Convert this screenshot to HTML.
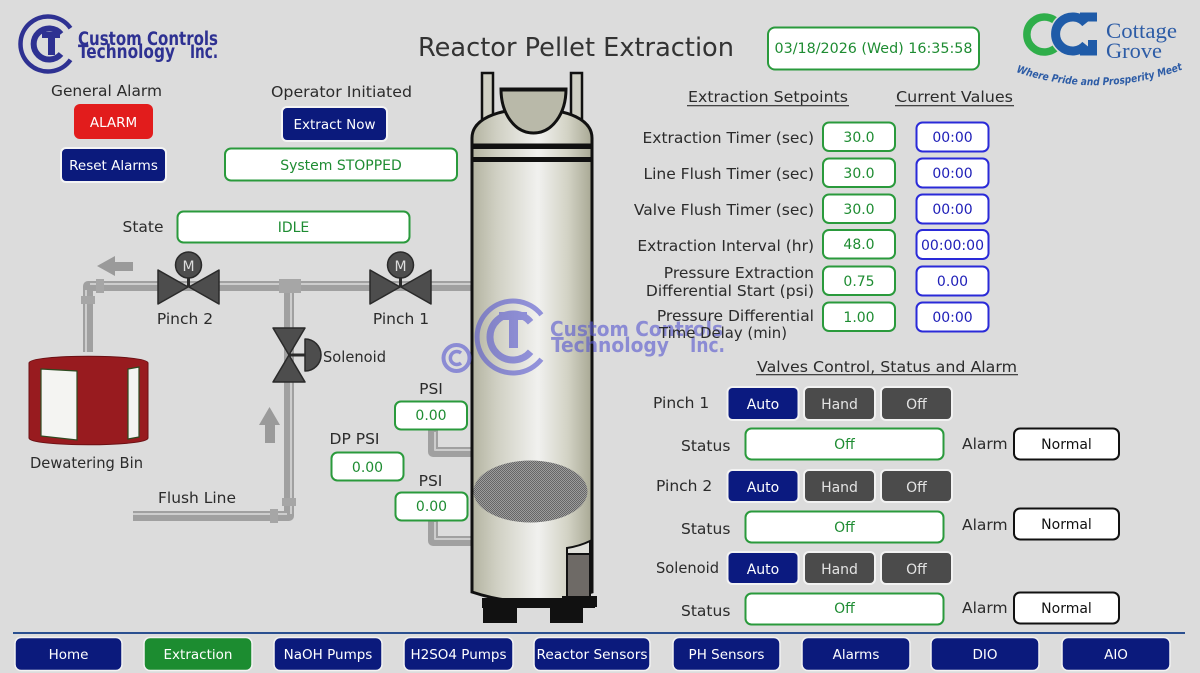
<!DOCTYPE html>
<html><head><meta charset="utf-8">
<style>
html,body{margin:0;padding:0;background:#dcdcdc;}
svg{display:block;}
text{font-family:"DejaVu Sans","Liberation Sans",sans-serif;}
text.serif{font-family:"Liberation Serif","DejaVu Serif",serif;}
text.cond{font-family:"DejaVu Sans Condensed","DejaVu Sans","Liberation Sans",sans-serif;}
</style></head><body>
<svg width="1200" height="673" viewBox="0 0 1200 673" xmlns="http://www.w3.org/2000/svg">
<defs>
<linearGradient id="body" x1="0" x2="1" y1="0" y2="0">
<stop offset="0" stop-color="#b3b3a0"/>
<stop offset="0.2" stop-color="#cfcfc2"/>
<stop offset="0.55" stop-color="#f1f1ef"/>
<stop offset="0.8" stop-color="#d2d2c4"/>
<stop offset="1" stop-color="#a8a894"/>
</linearGradient>
<pattern id="mesh" width="2" height="2" patternUnits="userSpaceOnUse"><rect width="2" height="2" fill="#9c9c9c"/><rect width="1" height="1" fill="#666"/><rect x="1" y="1" width="1" height="1" fill="#666"/></pattern>
<path id="tag" d="M1016,72 Q1098,100 1184,69"/>
</defs>
<rect width="1200" height="673" fill="#dcdcdc"/>

<!-- CCT logo top-left -->
<g fill="none" stroke="#2e3192">
<path d="M70.5,28.2 A27.5,27.5 0 1 0 70.5,59.8" stroke-width="4.5"/>
<path d="M61,34 A15.5,15.5 0 1 0 61,54" stroke-width="6"/>
</g>
<g fill="#2e3192">
<rect x="42" y="32" width="18" height="6"/>
<rect x="48" y="32" width="7" height="23"/>
<text class="cond" x="78" y="45" font-size="18.5" font-weight="bold" textLength="140" lengthAdjust="spacingAndGlyphs">Custom Controls</text>
<text class="cond" x="78" y="58" font-size="18.5" font-weight="bold" textLength="97" lengthAdjust="spacingAndGlyphs">Technology</text>
<text class="cond" x="190" y="58" font-size="18.5" font-weight="bold" textLength="28" lengthAdjust="spacingAndGlyphs">Inc.</text>
</g>

<!-- Title -->
<text x="576" y="56" font-size="25.5" fill="#333" text-anchor="middle" textLength="316" lengthAdjust="spacingAndGlyphs">Reactor Pellet Extraction</text>

<!-- Date -->
<rect x="768" y="27.5" width="211" height="42" rx="7" fill="#fff" stroke="#2a9a3c" stroke-width="2"/>
<text x="873.5" y="53" font-size="14" fill="#1e8c32" text-anchor="middle" textLength="198" lengthAdjust="spacingAndGlyphs">03/18/2026 (Wed) 16:35:58</text>

<!-- Cottage Grove logo -->
<path d="M1059.2,25.2 A17.5,17.5 0 1 0 1059.2,43.8" fill="none" stroke="#2fae4a" stroke-width="7.5"/>
<path d="M1085.8,23.3 A17,17 0 1 0 1085.8,44.7" fill="none" stroke="#dcdcdc" stroke-width="12"/>
<path d="M1085.8,23.3 A17,17 0 1 0 1085.8,44.7" fill="none" stroke="#1f5ba8" stroke-width="9"/>
<rect x="1080" y="12.5" width="17" height="9" fill="#1f5ba8"/>
<rect x="1080" y="46.5" width="17" height="9" fill="#1f5ba8"/>
<rect x="1088" y="40" width="9" height="15.5" fill="#1f5ba8"/>
<text class="serif" x="1106" y="38" font-size="22" fill="#2d5ca6" textLength="71" lengthAdjust="spacingAndGlyphs">Cottage</text>
<text class="serif" x="1106" y="58" font-size="22" fill="#2d5ca6" textLength="56" lengthAdjust="spacingAndGlyphs">Grove</text>
<text font-size="10.5" font-weight="bold" font-style="italic" fill="#2d5ca6"><textPath href="#tag" textLength="170" lengthAdjust="spacingAndGlyphs">Where Pride and Prosperity Meet</textPath></text>

<!-- Left controls -->
<text x="106.5" y="96" font-size="15.5" fill="#2b2b2b" text-anchor="middle" textLength="111" lengthAdjust="spacingAndGlyphs">General Alarm</text>
<rect x="74" y="104" width="79" height="35" rx="6" fill="#e21c1c"/>
<text x="113.5" y="127" font-size="13.5" fill="#fff" text-anchor="middle">ALARM</text>
<rect x="61" y="148" width="105" height="34" rx="5" fill="#0b1a7c" stroke="#f4f4f4" stroke-width="2"/>
<text x="113.5" y="170" font-size="13.5" fill="#fff" text-anchor="middle">Reset Alarms</text>

<text x="341.5" y="97" font-size="15.5" fill="#2b2b2b" text-anchor="middle" textLength="141" lengthAdjust="spacingAndGlyphs">Operator Initiated</text>
<rect x="282" y="107" width="105" height="34" rx="5" fill="#0b1a7c" stroke="#f4f4f4" stroke-width="2"/>
<text x="334.5" y="129" font-size="13.5" fill="#fff" text-anchor="middle">Extract Now</text>
<rect x="225" y="148.5" width="232" height="32" rx="6" fill="#fff" stroke="#2a9a3c" stroke-width="2"/>
<text x="341" y="170" font-size="14" fill="#1e8c32" text-anchor="middle">System STOPPED</text>

<text x="143" y="232" font-size="15.5" fill="#2b2b2b" text-anchor="middle">State</text>
<rect x="177.5" y="211.5" width="232" height="31" rx="6" fill="#fff" stroke="#2a9a3c" stroke-width="2"/>
<text x="293.5" y="232" font-size="14" fill="#1e8c32" text-anchor="middle">IDLE</text>

<!-- Pipes -->
<g fill="none" stroke-linejoin="round">
<path d="M472,286 L88,286 L88,352" stroke="#a0a0a0" stroke-width="10"/>
<path d="M289,286 L289,516 L133,516" stroke="#a0a0a0" stroke-width="10"/>
<path d="M433,430 L433,452 L472,452" stroke="#a0a0a0" stroke-width="10"/>
<path d="M433,520 L433,541 L472,541" stroke="#a0a0a0" stroke-width="10"/>
<path d="M472,284 L90,284 M86,290 L86,352" stroke="#cdcdcd" stroke-width="2"/>
<path d="M291,292 L291,514 M287,514 L133,514" stroke="#cdcdcd" stroke-width="2"/>
<path d="M435,432 L435,450 L472,450 M435,522 L435,539 L472,539" stroke="#cdcdcd" stroke-width="2"/>
</g>
<g fill="#a6a6a6">
<rect x="81" y="296" width="14" height="8"/>
<rect x="96" y="279" width="8" height="14"/>
<rect x="279" y="279" width="22" height="14"/>
<rect x="282" y="498" width="14" height="8"/>
<rect x="270" y="509" width="8" height="14"/>
</g>

<!-- Arrows -->
<polygon points="97,266 115,256 115,276" fill="#9a9a9a"/>
<rect x="115" y="262" width="18" height="9" fill="#9a9a9a"/>
<polygon points="269.5,407 259,425 280,425" fill="#9a9a9a"/>
<rect x="265" y="425" width="10" height="18" fill="#9a9a9a"/>

<!-- Dewatering bin -->
<path d="M29,363 C29,354 148,354 148,363 L148,438 C148,447 29,447 29,438 Z" fill="#981b1f" stroke="#6a1014" stroke-width="1"/>
<path d="M41,369 L77,371 L77,440 L41,436 Z" fill="#f4f4f2" stroke="#2e4a20" stroke-width="1.2"/>
<path d="M128,369 L139,367 L139,437 L128,439 Z" fill="#f4f4f2" stroke="#2e4a20" stroke-width="1.2"/>
<text x="86.5" y="468" font-size="15.5" fill="#2b2b2b" text-anchor="middle" textLength="113" lengthAdjust="spacingAndGlyphs">Dewatering Bin</text>
<text x="197" y="503" font-size="15.5" fill="#2b2b2b" text-anchor="middle" textLength="78" lengthAdjust="spacingAndGlyphs">Flush Line</text>

<!-- Pinch valves -->
<g fill="#4d4d4d" stroke="#2a2a2a" stroke-width="1.5" stroke-linejoin="round">
<polygon points="158,270 188,287 158,304"/>
<polygon points="219,270 189,287 219,304"/>
<polygon points="370,270 400,287 370,304"/>
<polygon points="431,270 401,287 431,304"/>
<line x1="188.5" y1="276" x2="188.5" y2="287" stroke-width="3"/>
<line x1="400.5" y1="276" x2="400.5" y2="287" stroke-width="3"/>
<circle cx="188.5" cy="265" r="13"/>
<circle cx="400.5" cy="265" r="13"/>
</g>
<text x="188.5" y="271" font-size="14" fill="#ddd" text-anchor="middle">M</text>
<text x="400.5" y="271" font-size="14" fill="#ddd" text-anchor="middle">M</text>
<text x="185" y="324" font-size="15.5" fill="#2b2b2b" text-anchor="middle">Pinch 2</text>
<text x="401" y="324" font-size="15.5" fill="#2b2b2b" text-anchor="middle">Pinch 1</text>

<!-- Solenoid -->
<g fill="#4d4d4d" stroke="#2a2a2a" stroke-width="1.5" stroke-linejoin="round">
<polygon points="273,328 305,328 289,355"/>
<polygon points="273,382 305,382 289,355"/>
<line x1="289" y1="355" x2="306" y2="355" stroke-width="3"/>
<path d="M305,339 A16,16 0 0 1 305,371 Z"/>
</g>
<text x="323" y="362" font-size="15.5" fill="#2b2b2b" textLength="63" lengthAdjust="spacingAndGlyphs">Solenoid</text>

<!-- PSI boxes -->
<text x="431" y="394" font-size="15.5" fill="#2b2b2b" text-anchor="middle">PSI</text>
<rect x="395" y="401.5" width="72" height="28" rx="6" fill="#fff" stroke="#2a9a3c" stroke-width="2"/>
<text x="431" y="420" font-size="14" fill="#1e8c32" text-anchor="middle">0.00</text>
<text x="354.5" y="444" font-size="15.5" fill="#2b2b2b" text-anchor="middle">DP PSI</text>
<rect x="331.5" y="452.5" width="72" height="28" rx="6" fill="#fff" stroke="#2a9a3c" stroke-width="2"/>
<text x="367.5" y="472" font-size="14" fill="#1e8c32" text-anchor="middle">0.00</text>
<text x="430.5" y="486" font-size="15.5" fill="#2b2b2b" text-anchor="middle">PSI</text>
<rect x="395.5" y="492.5" width="72" height="28" rx="6" fill="#fff" stroke="#2a9a3c" stroke-width="2"/>
<text x="431.5" y="511" font-size="14" fill="#1e8c32" text-anchor="middle">0.00</text>

<!-- Reactor -->
<rect x="482" y="73" width="11" height="60" fill="#d0d0c4" stroke="#111" stroke-width="2.5"/>
<rect x="571" y="73" width="11" height="60" fill="#d0d0c4" stroke="#111" stroke-width="2.5"/>
<path d="M472,147 L472,138 C472,120 495,109 532,109 C569,109 592,120 592,138 L592,147 Z" fill="url(#body)" stroke="#111" stroke-width="3"/>
<path d="M501,89 L566,89 C566,114 552,133 533.5,133 C515,133 501,114 501,89 Z" fill="#b9b9a9" stroke="#111" stroke-width="3"/>
<rect x="500" y="87.5" width="67" height="4" fill="#111"/>
<path d="M472,145 L472,592 Q532,612 592,592 L592,145 Z" fill="url(#body)" stroke="#111" stroke-width="3"/>
<rect x="471" y="144" width="122" height="5" fill="#111"/>
<rect x="471" y="157" width="122" height="5" fill="#111"/>
<ellipse cx="530.5" cy="491.5" rx="57" ry="31" fill="url(#mesh)"/>
<path d="M567,548 Q580,546 590,541 L590,554 L567,554 Z" fill="#e0e0da" stroke="#111" stroke-width="2"/>
<rect x="567" y="554" width="23" height="43" fill="#6e6a66" stroke="#111" stroke-width="2"/>
<rect x="562" y="596" width="35" height="11" fill="#111"/>
<rect x="482" y="598" width="113" height="10" fill="#111"/>
<rect x="483" y="600" width="34" height="23" fill="#111"/>
<rect x="550" y="600" width="33" height="23" fill="#111"/>

<!-- Watermark -->
<g opacity="0.62">
<g fill="none" stroke="#5a5ad0">
<path d="M541.4,314.8 A36,36 0 1 0 541.4,359.2" stroke-width="5"/>
<path d="M530.6,322.2 A23,23 0 1 0 530.6,351.8" stroke-width="7"/>
<circle cx="456.5" cy="358" r="13" stroke-width="4"/>
<path d="M461,353 A6.5,6.5 0 1 0 461,363" stroke-width="3.5"/>
</g>
<g fill="#5a5ad0">
<rect x="499" y="312" width="28" height="8"/>
<rect x="509" y="312" width="9" height="36"/>
<text class="cond" x="550" y="336" font-size="20" font-weight="bold" textLength="173" lengthAdjust="spacingAndGlyphs">Custom Controls</text>
<text class="cond" x="551" y="352" font-size="20" font-weight="bold" textLength="118" lengthAdjust="spacingAndGlyphs">Technology</text>
<text class="cond" x="690" y="352" font-size="20" font-weight="bold" textLength="35" lengthAdjust="spacingAndGlyphs">Inc.</text>
</g>
</g>

<!-- Setpoints header -->
<text x="768" y="102" font-size="15.5" fill="#2b2b2b" text-anchor="middle" textLength="160" lengthAdjust="spacingAndGlyphs">Extraction Setpoints</text>
<rect x="687" y="105" width="162" height="1.3" fill="#444"/>
<text x="954.5" y="102" font-size="15.5" fill="#2b2b2b" text-anchor="middle" textLength="117" lengthAdjust="spacingAndGlyphs">Current Values</text>
<rect x="895" y="105" width="119" height="1.3" fill="#444"/>

<g font-size="15.5" fill="#2b2b2b" text-anchor="end">
<text x="814" y="143">Extraction Timer (sec)</text>
<text x="814" y="179">Line Flush Timer (sec)</text>
<text x="814" y="215">Valve Flush Timer (sec)</text>
<text x="814" y="251">Extraction Interval (hr)</text>
<text x="814" y="278">Pressure Extraction</text>
<text x="814" y="296">Differential Start (psi)</text>
<text x="814" y="321">Pressure Differential</text>
</g>
<text x="659" y="338" font-size="15.5" fill="#2b2b2b" textLength="128" lengthAdjust="spacingAndGlyphs">Time Delay (min)</text>

<g fill="#fff" stroke="#2a9a3c" stroke-width="2">
<rect x="823" y="122.5" width="72" height="28.5" rx="6"/>
<rect x="823" y="158.5" width="72" height="28.5" rx="6"/>
<rect x="823" y="194.5" width="72" height="28.5" rx="6"/>
<rect x="823" y="230" width="72" height="28.5" rx="6"/>
<rect x="823" y="266.5" width="72" height="28.5" rx="6"/>
<rect x="823" y="302.5" width="72" height="28.5" rx="6"/>
</g>
<g fill="#fff" stroke="#2a2ad8" stroke-width="2">
<rect x="916.5" y="122.5" width="72" height="29" rx="6"/>
<rect x="916.5" y="158.5" width="72" height="29" rx="6"/>
<rect x="916.5" y="194.5" width="72" height="29" rx="6"/>
<rect x="916.5" y="230" width="72" height="29" rx="6"/>
<rect x="916.5" y="266.5" width="72" height="29" rx="6"/>
<rect x="916.5" y="302.5" width="72" height="29" rx="6"/>
</g>
<g font-size="14" fill="#1e8c32" text-anchor="middle">
<text x="859" y="142">30.0</text>
<text x="859" y="178">30.0</text>
<text x="859" y="214">30.0</text>
<text x="859" y="249">48.0</text>
<text x="859" y="286">0.75</text>
<text x="859" y="322">1.00</text>
</g>
<g font-size="14" fill="#2020b8" text-anchor="middle">
<text x="952.5" y="142">00:00</text>
<text x="952.5" y="178">00:00</text>
<text x="952.5" y="214">00:00</text>
<text x="952.5" y="250" textLength="63" lengthAdjust="spacingAndGlyphs">00:00:00</text>
<text x="952.5" y="286">0.00</text>
<text x="952.5" y="322">00:00</text>
</g>

<!-- Valves section -->
<text x="887" y="372" font-size="15.5" fill="#2b2b2b" text-anchor="middle" textLength="260" lengthAdjust="spacingAndGlyphs">Valves Control, Status and Alarm</text>
<rect x="756" y="374" width="262" height="1.3" fill="#444"/>

<g font-size="15.5" fill="#2b2b2b">
<text x="653" y="408">Pinch 1</text>
<text x="656" y="491">Pinch 2</text>
<text x="656" y="573" textLength="63" lengthAdjust="spacingAndGlyphs">Solenoid</text>
<text x="681" y="451">Status</text>
<text x="681" y="534">Status</text>
<text x="681" y="616">Status</text>
<text x="962" y="449">Alarm</text>
<text x="962" y="530">Alarm</text>
<text x="962" y="613">Alarm</text>
</g>

<g stroke="#f2f2f2" stroke-width="2">
<rect x="727.5" y="387" width="71" height="33" rx="5" fill="#0b1a80"/>
<rect x="804" y="387" width="71" height="33" rx="5" fill="#4b4b4b"/>
<rect x="881" y="387" width="71" height="33" rx="5" fill="#4b4b4b"/>
<rect x="727.5" y="470" width="71" height="32" rx="5" fill="#0b1a80"/>
<rect x="804" y="470" width="71" height="32" rx="5" fill="#4b4b4b"/>
<rect x="881" y="470" width="71" height="32" rx="5" fill="#4b4b4b"/>
<rect x="727.5" y="552" width="71" height="32" rx="5" fill="#0b1a80"/>
<rect x="804" y="552" width="71" height="32" rx="5" fill="#4b4b4b"/>
<rect x="881" y="552" width="71" height="32" rx="5" fill="#4b4b4b"/>
</g>
<g font-size="14" text-anchor="middle">
<text x="763" y="409" fill="#fff">Auto</text>
<text x="839.5" y="409" fill="#e4e4e4">Hand</text>
<text x="916.5" y="409" fill="#e4e4e4">Off</text>
<text x="763" y="492" fill="#fff">Auto</text>
<text x="839.5" y="492" fill="#e4e4e4">Hand</text>
<text x="916.5" y="492" fill="#e4e4e4">Off</text>
<text x="763" y="574" fill="#fff">Auto</text>
<text x="839.5" y="574" fill="#e4e4e4">Hand</text>
<text x="916.5" y="574" fill="#e4e4e4">Off</text>
</g>

<g fill="#fff" stroke="#2a9a3c" stroke-width="2">
<rect x="745.5" y="428.5" width="198" height="31" rx="6"/>
<rect x="745.5" y="511.5" width="198" height="31" rx="6"/>
<rect x="745.5" y="593.5" width="198" height="31" rx="6"/>
</g>
<g font-size="14" fill="#1e8c32" text-anchor="middle">
<text x="844.5" y="449">Off</text>
<text x="844.5" y="532">Off</text>
<text x="844.5" y="613">Off</text>
</g>
<g fill="#fff" stroke="#111" stroke-width="2">
<rect x="1014" y="428.5" width="105" height="31" rx="6"/>
<rect x="1014" y="508.5" width="105" height="31" rx="6"/>
<rect x="1014" y="592.5" width="105" height="31" rx="6"/>
</g>
<g font-size="14" fill="#111" text-anchor="middle">
<text x="1066.5" y="449">Normal</text>
<text x="1066.5" y="529">Normal</text>
<text x="1066.5" y="613">Normal</text>
</g>

<!-- Bottom nav -->
<rect x="13" y="632" width="1172" height="2" fill="#2a4f8f"/>
<g stroke="#f2f2f2" stroke-width="1.5">
<rect x="15" y="637.5" width="107" height="33" rx="6" fill="#0b1a7c"/>
<rect x="144" y="637.5" width="108" height="33" rx="6" fill="#1c8c30"/>
<rect x="274" y="637.5" width="108" height="33" rx="6" fill="#0b1a7c"/>
<rect x="404" y="637.5" width="109" height="33" rx="6" fill="#0b1a7c"/>
<rect x="534" y="637.5" width="116" height="33" rx="6" fill="#0b1a7c"/>
<rect x="673" y="637.5" width="107" height="33" rx="6" fill="#0b1a7c"/>
<rect x="802" y="637.5" width="108" height="33" rx="6" fill="#0b1a7c"/>
<rect x="931" y="637.5" width="108" height="33" rx="6" fill="#0b1a7c"/>
<rect x="1062" y="637.5" width="108" height="33" rx="6" fill="#0b1a7c"/>
</g>
<g font-size="13.5" fill="#fff" text-anchor="middle">
<text x="68.5" y="659">Home</text>
<text x="198" y="659">Extraction</text>
<text x="328" y="659">NaOH Pumps</text>
<text x="458.5" y="659">H2SO4 Pumps</text>
<text x="592" y="659" textLength="111" lengthAdjust="spacingAndGlyphs">Reactor Sensors</text>
<text x="726.5" y="659">PH Sensors</text>
<text x="856" y="659">Alarms</text>
<text x="985" y="659">DIO</text>
<text x="1116" y="659">AIO</text>
</g>
</svg>
</body></html>
